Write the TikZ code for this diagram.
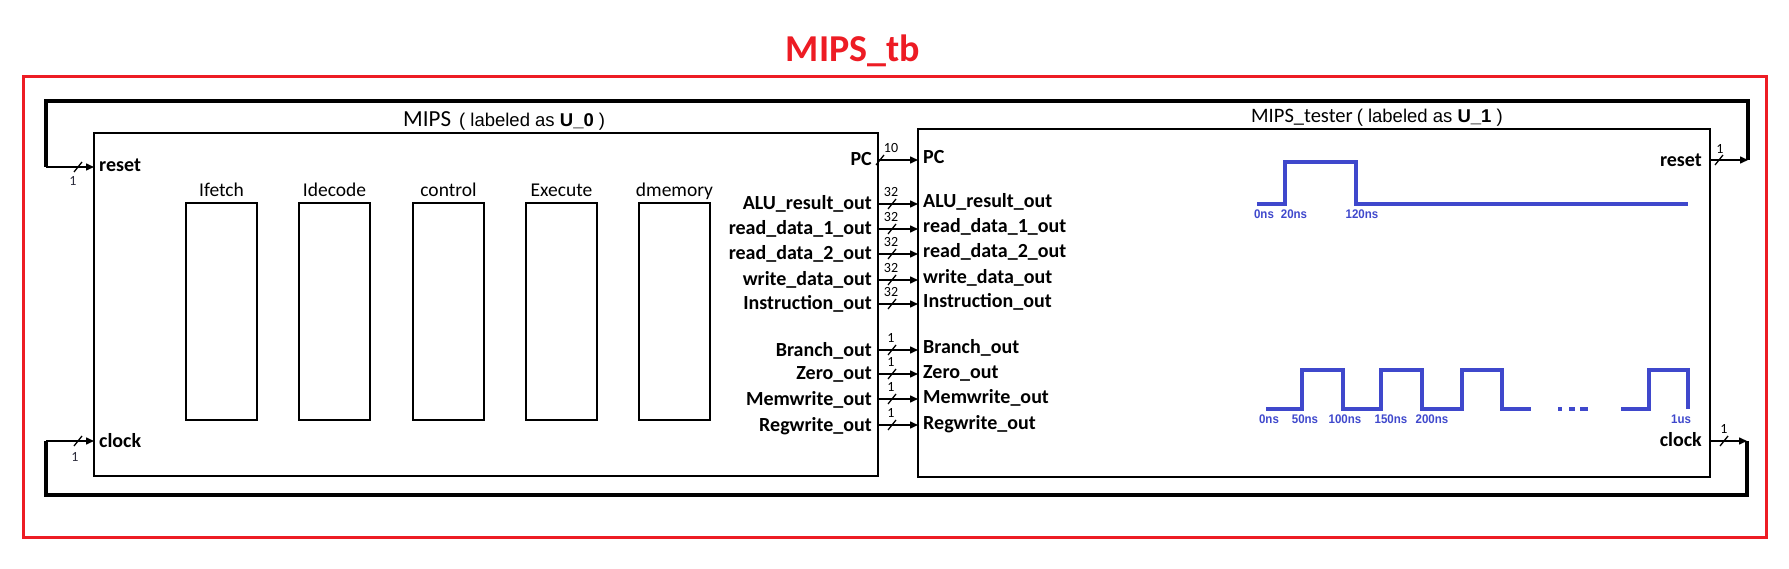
\documentclass[tikz,border=0pt]{standalone}
\usepackage{fontspec}
\setmainfont{Carlito}
\newfontfamily\arialf{Liberation Sans}
\newfontfamily\narrowf[FakeStretch=0.92]{Liberation Sans}
\usetikzlibrary{arrows.meta,calc}
\definecolor{tbred}{HTML}{ED1C24}
\definecolor{waveblue}{HTML}{3F48CC}
\definecolor{numgray}{HTML}{2B2B3B}
\begin{document}
\begin{tikzpicture}[x=1pt,y=-1pt,
  box/.style={draw, line width=1.8pt, anchor=north west, inner sep=0pt, outer sep=0pt},
  sig/.style={line width=1.5pt, -{Triangle[length=8pt,width=7pt]}},
  bus/.style={line width=4pt, line join=miter},
  slashln/.style={line width=1.3pt},
  portl/.style={inner sep=0pt, font=\fontsize{20}{24}\selectfont\bfseries},
  modl/.style={inner sep=0pt, font=\fontsize{19.5}{22}\selectfont},
  wlab/.style={inner sep=0pt, font=\fontsize{14}{16}\selectfont},
  wave/.style={draw=waveblue, line width=3.5pt, line join=miter},
  tlab/.style={inner sep=0pt, text=waveblue, font=\narrowf\bfseries\fontsize{12.5}{14}\selectfont}]
\useasboundingbox (0,0) rectangle (1789,569);

% outer testbench
\node[draw=tbred, line width=3pt, anchor=north west, inner sep=0pt, outer sep=0pt,
      minimum width=1743pt, minimum height=460pt] (tb) at (23,77) {};
\node[anchor=base, inner sep=0pt, text=tbred, font=\fontsize{38}{42}\selectfont\bfseries] (title) at (853,62) {MIPS\_tb};

% modules
\node[box, minimum width=784pt, minimum height=343pt] (mips) at (94,133) {};
\node[box, minimum width=792pt, minimum height=348pt] (tester) at (918,129) {};

\node[anchor=base west, inner sep=0pt] (mipslab) at (403,127)
  {\fontsize{23}{26}\selectfont MIPS\hspace{8pt}{\arialf\fontsize{18.5}{20}\selectfont( labeled as \textbf{U\_0} )}};
\node[anchor=base west, inner sep=0pt] (testerlab) at (1251,123)
  {\fontsize{20.5}{23}\selectfont MIPS\_tester\hspace{4pt}{\arialf\fontsize{18.5}{20}\selectfont( labeled as \textbf{U\_1} )}};

% submodules
\foreach \x/\nm [count=\i] in {186/Ifetch, 299/Idecode, 413/control, 526/Execute, 639/dmemory} {
  \node[box, minimum width=71pt, minimum height=217pt] (sub\i) at (\x,203) {};
  \node[modl, anchor=base] (subl\i) at ($(sub\i.north)+(0,-6)$) {\nm};
}

% signals MIPS -> tester
\foreach \y/\w/\nm/\sx in {160/10/PC/880, 204/32/ALU\_result\_out/892, 229/32/read\_data\_1\_out/892,
   254/32/read\_data\_2\_out/892, 280/32/write\_data\_out/892, 304/32/Instruction\_out/892,
   350/1/Branch\_out/892, 374/1/Zero\_out/892, 399/1/Memwrite\_out/892, 425/1/Regwrite\_out/892} {
  \node[portl, anchor=base east] (ml\y) at (872,\y+6) {\nm};
  \node[portl, anchor=base west] (tl\y) at (923,\y+4) {\nm};
  \draw[sig] (mips.east |- 0,\y) -- (tester.west |- 0,\y);
  \draw[slashln] (\sx-4,\y+5) -- (\sx+4,\y-5);
  \node[wlab] (wl\y) at (891,\y-12) {\w};
}

% reset / clock ports
\node[portl, anchor=base west] (mrst) at (99,172) {reset};
\node[portl, anchor=base west] (mclk) at (99,447) {clock};
\node[portl, anchor=base east] (trst) at (1702,167) {reset};
\node[portl, anchor=base east] (tclk) at (1702,446) {clock};

% reset loop
\coordinate (rR) at (1748,160);
\coordinate (rTR) at (1748,101);
\coordinate (rTL) at (46,101);
\coordinate (rL) at (46,167);
\draw[sig] (tester.east |- rR) -- (rR);
\draw[bus] (rR) -- (rTR) -- (rTL) -- (rL);
\draw[sig] (rL) -- (mips.west |- rL);
\draw[slashln] (1715,165) -- (1723,155);
\node[wlab] (rw1) at (1720,149) {1};
\draw[slashln] (74,172) -- (82,162);
\node[wlab, text=numgray] (rw2) at (73,181) {1};

% clock loop
\coordinate (cR) at (1747,441);
\coordinate (cBR) at (1747,495);
\coordinate (cBL) at (46,495);
\coordinate (cL) at (46,441);
\draw[sig] (tester.east |- cR) -- (cR);
\draw[bus] (cR) -- (cBR) -- (cBL) -- (cL);
\draw[sig] (cL) -- (mips.west |- cL);
\draw[slashln] (1720,446) -- (1728,436);
\node[wlab] (cw1) at (1724,429) {1};
\draw[slashln] (74,446) -- (82,436);
\node[wlab, text=numgray] (cw2) at (75,457) {1};

% reset waveform
\draw[wave] (1257,204) -- (1285,204) -- (1285,162) -- (1356,162) -- (1356,204) -- (1688,204);
\node[tlab] at (1264,214) {0ns};
\node[tlab] at (1294,214) {20ns};
\node[tlab] at (1362,214) {120ns};

% clock waveform
\draw[wave] (1266,409) -- (1302,409) -- (1302,370) -- (1343,370) -- (1343,409) -- (1381,409)
  -- (1381,370) -- (1422,370) -- (1422,409) -- (1462,409) -- (1462,370) -- (1502,370)
  -- (1502,409) -- (1531,409);
\draw[wave] (1558,409) -- (1562,409);
\draw[wave] (1569,409) -- (1575,409);
\draw[wave] (1580,409) -- (1588,409);
\draw[wave] (1621,409) -- (1649,409) -- (1649,370) -- (1688,370) -- (1688,409);
\node[tlab] at (1269,419) {0ns};
\node[tlab] at (1305,419) {50ns};
\node[tlab] at (1345,419) {100ns};
\node[tlab] at (1391,419) {150ns};
\node[tlab] at (1432,419) {200ns};
\node[tlab] at (1681,419) {1us};
\end{tikzpicture}
\end{document}
